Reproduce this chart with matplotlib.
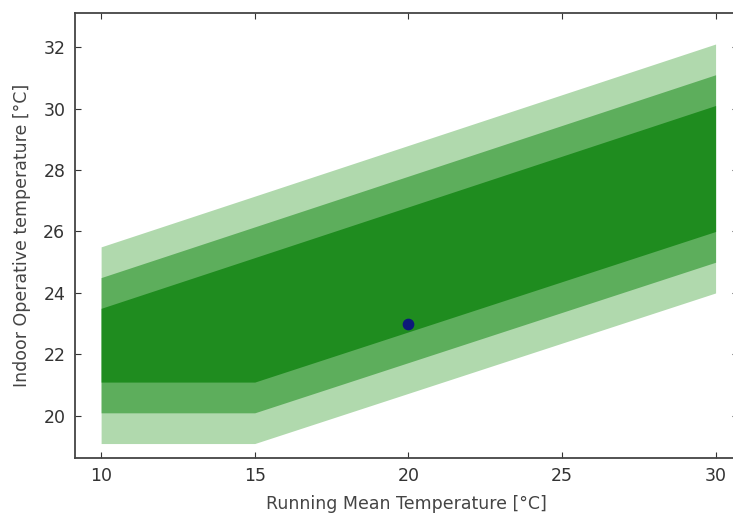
import matplotlib
matplotlib.use("Agg")
import matplotlib.pyplot as plt

# Running mean temperature breakpoints
x_pts = [10, 15, 30]
# Upper limits of the comfort bands (inner -> outer)
upper_1 = [23.5, 25.15, 30.1]
upper_2 = [24.5, 26.15, 31.1]
upper_3 = [25.5, 27.15, 32.1]
# Lower limits of the comfort bands (inner -> outer)
lower_1 = [21.1, 21.1, 26.0]
lower_2 = [20.1, 20.1, 25.0]
lower_3 = [19.1, 19.1, 24.0]
# Measured point
point_x = [20]
point_y = [23]

x_ticks = [10, 15, 20, 25, 30]
y_ticks = [20, 22, 24, 26, 28, 30, 32]

W, H = 733, 515
fig = plt.figure(figsize=(W / 100, H / 100), dpi=100)
left, right, top, bottom = 75, 738, 13.3, 458.3
ax = fig.add_axes([left / W, 1 - bottom / H, (right - left) / W, (bottom - top) / H])

c_light = "#b0d9ad"
c_med = "#5dae5c"
c_dark = "#1f8c1f"

ax.fill_between(x_pts, lower_3, upper_3, color=c_light, linewidth=0)
ax.fill_between(x_pts, lower_2, upper_2, color=c_med, linewidth=0)
ax.fill_between(x_pts, lower_1, upper_1, color=c_dark, linewidth=0)
ax.scatter(point_x, point_y, s=55, color="#0d1a7a", zorder=5)

ax.set_xlim(9.15, 30.73)
ax.set_ylim(18.62, 33.1)
ax.set_xticks(x_ticks)
ax.set_yticks(y_ticks)
ax.tick_params(direction="in", top=True, right=True, length=4.5, width=0.8,
               labelsize=12.5, colors="#333333", labelcolor="#333333")
ax.tick_params(axis="y", pad=7)
ax.tick_params(axis="x", pad=6)
for s in ax.spines.values():
    s.set_color("#444444")
    s.set_linewidth(1.3)

ax.set_xlabel("Running Mean Temperature [°C]", fontsize=12.5, color="#444444", labelpad=7.5)
ax.set_ylabel("Indoor Operative temperature [°C]", fontsize=12.5, color="#444444", labelpad=9)

fig.savefig("out.png", dpi=100)
